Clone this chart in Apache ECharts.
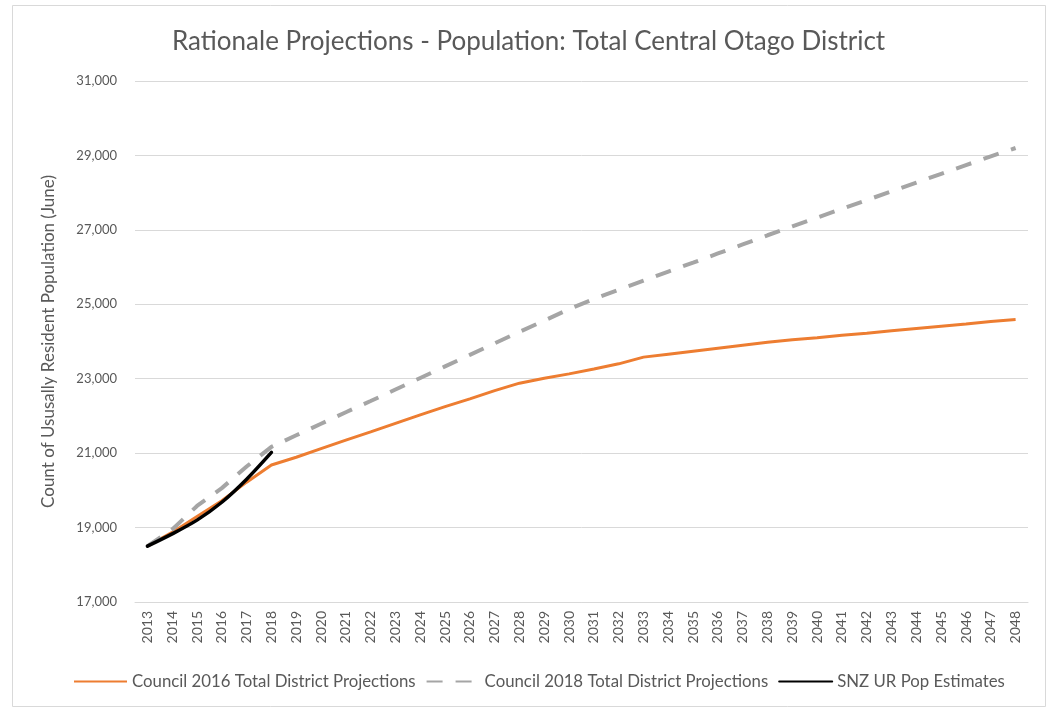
<!DOCTYPE html>
<html>
<head>
<meta charset="utf-8">
<script src="https://cdn.jsdelivr.net/npm/echarts@6/dist/echarts.min.js"></script>
<style>
  html, body { margin: 0; padding: 0; background: #ffffff; }
  #chart { width: 1048px; height: 708px; }
</style>
</head>
<body>
<div id="chart"></div>
<script>
// Years on the category axis
const years = [
  '2013','2014','2015','2016','2017','2018','2019','2020','2021','2022','2023','2024',
  '2025','2026','2027','2028','2029','2030','2031','2032','2033','2034','2035','2036',
  '2037','2038','2039','2040','2041','2042','2043','2044','2045','2046','2047','2048'
];

// Council 2016 Total District Projections
const council2016 = [
  18500, 18870, 19300, 19720, 20220, 20680, 20890, 21120, 21350, 21570, 21800, 22030,
  22250, 22460, 22680, 22880, 23010, 23130, 23260, 23400, 23580, 23660, 23740, 23820,
  23900, 23980, 24050, 24100, 24170, 24220, 24290, 24350, 24410, 24470, 24540, 24590
];

// Council 2018 Total District Projections
const council2018 = [
  18500, 18950, 19580, 20060, 20640, 21170, 21480, 21790, 22100, 22400, 22710, 23020,
  23330, 23640, 23950, 24260, 24560, 24870, 25145, 25390, 25635, 25880, 26120, 26365,
  26610, 26855, 27095, 27330, 27565, 27800, 28035, 28270, 28505, 28740, 28975, 29200
];

// SNZ usually resident population estimates (2013-2018 only)
const snzEstimates = [18500, 18830, 19200, 19680, 20300, 21020];

// Y axis range and step
const yMin = 17000;
const yMax = 31000;
const yStep = 2000;

const FONT = 'Lato';
const TEXT = '#595959';

const chart = echarts.init(document.getElementById('chart'), null, { renderer: 'canvas' });

chart.setOption({
  animation: false,
  backgroundColor: '#ffffff',
  textStyle: { fontFamily: FONT },
  graphic: [{
    type: 'rect',
    shape: { x: 12.5, y: 5.5, width: 1033, height: 701 },
    style: { fill: 'none', stroke: '#d9d9d9', lineWidth: 1 },
    silent: true,
    z: -1
  }],
  title: {
    text: 'Rationale Projections - Population: Total Central Otago District',
    left: 172,
    top: 29,
    padding: 0,
    textStyle: { fontFamily: FONT, fontSize: 26, fontWeight: 'normal', color: TEXT }
  },
  legend: {
    bottom: 13,
    left: 68,
    padding: 5,
    itemWidth: 53,
    itemHeight: 4,
    itemGap: 10,
    itemStyle: { opacity: 0 },
    textStyle: { fontFamily: FONT, fontSize: 16.8, color: TEXT },
    data: [
      'Council 2016 Total District Projections',
      'Council 2018 Total District Projections',
      'SNZ UR Pop Estimates'
    ]
  },
  grid: { left: 135, right: 20, top: 81, bottom: 106 },
  xAxis: {
    type: 'category',
    data: years,
    boundaryGap: true,
    axisLine: { show: true, lineStyle: { color: '#d9d9d9', width: 1 } },
    axisTick: { show: false },
    axisLabel: {
      rotate: 90,
      margin: 9,
      interval: 0,
      fontFamily: FONT,
      fontSize: 14,
      color: TEXT
    }
  },
  yAxis: {
    type: 'value',
    min: yMin,
    max: yMax,
    interval: yStep,
    name: 'Count of Ususally Resident Population (June)',
    nameLocation: 'middle',
    nameGap: 78,
    nameTextStyle: { fontFamily: FONT, fontSize: 17, color: TEXT },
    axisLine: { show: false },
    axisTick: { show: false },
    splitLine: { lineStyle: { color: '#d9d9d9', width: 1 } },
    axisLabel: {
      margin: 18,
      fontFamily: FONT,
      fontSize: 13,
      color: TEXT,
      formatter: v => v.toLocaleString('en-US')
    }
  },
  series: [
    {
      name: 'Council 2016 Total District Projections',
      type: 'line',
      data: council2016,
      symbol: 'none',
      lineStyle: { color: '#ED7D31', width: 3 },
      itemStyle: { color: '#ED7D31' },
      z: 2
    },
    {
      name: 'Council 2018 Total District Projections',
      type: 'line',
      data: council2018,
      symbol: 'none',
      lineStyle: { color: '#A5A5A5', width: 4, type: [16, 13], cap: 'butt' },
      itemStyle: { color: '#A5A5A5' },
      z: 3
    },
    {
      name: 'SNZ UR Pop Estimates',
      type: 'line',
      data: snzEstimates,
      symbol: 'none',
      smooth: 0.3,
      lineStyle: { color: '#000000', width: 3.5, cap: 'round' },
      itemStyle: { color: '#000000' },
      z: 4
    }
  ]
});
</script>
</body>
</html>
